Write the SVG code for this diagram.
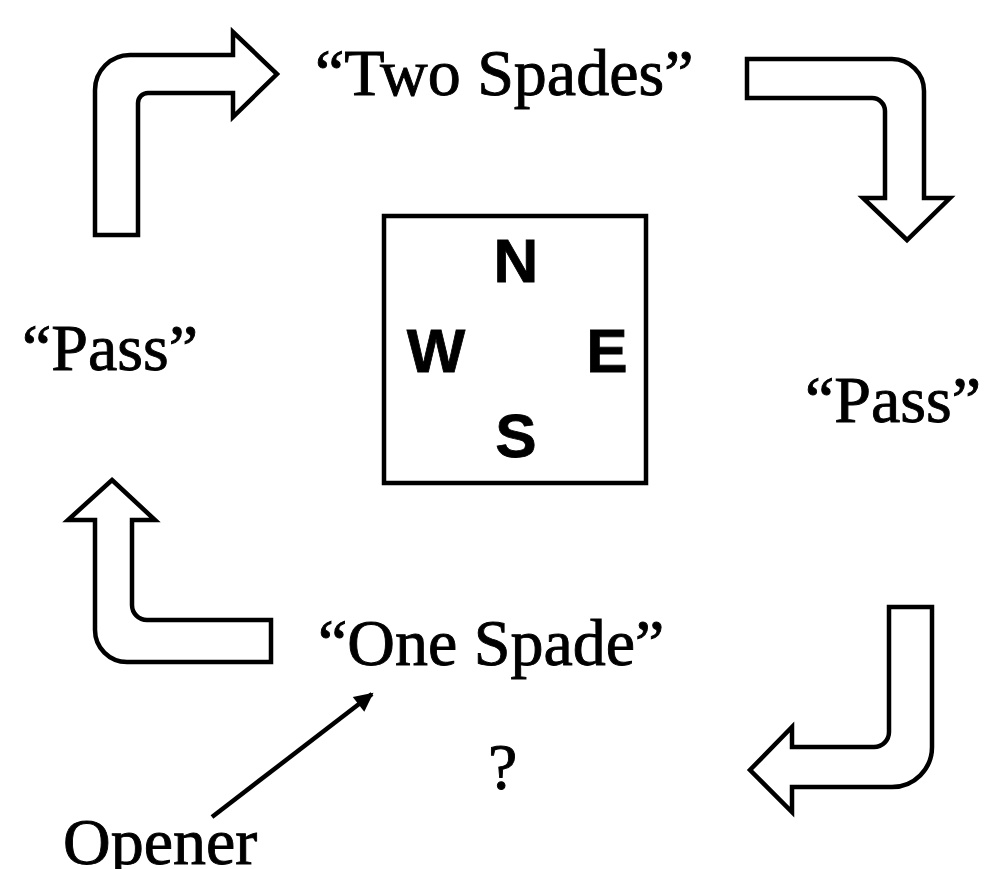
<svg xmlns="http://www.w3.org/2000/svg" width="988" height="869" viewBox="0 0 988 869">
<style>
.bg{fill:#fff}
.blk{fill:#fff;stroke:#000;stroke-width:4.5;stroke-linejoin:miter}
.lbl{font-family:"Liberation Serif","Times New Roman",serif;font-size:66px;fill:#000;stroke:#000;stroke-width:0.9}
.dir{font-family:"Liberation Sans",Arial,sans-serif;font-weight:bold;font-size:62px;fill:#000;stroke:#000;stroke-width:0.8;text-anchor:middle}
.box{fill:none;stroke:#000;stroke-width:4.5}
</style>
<defs>
<marker id="ah" viewBox="0 0 10 10" refX="9" refY="5" markerWidth="6" markerHeight="4.2" orient="auto" markerUnits="strokeWidth">
<path d="M0,0 L10,5 L0,10 Z" fill="#000"/>
</marker>
</defs>
<rect class="bg" x="0" y="0" width="988" height="869"/>
<g id="connectors">
<path id="arrow-west-north" class="blk" d="M95,235 L95,90 A35,35 0 0 1 130,55 L233,55 L233,32 L277,74 L233,117 L233,93 L148,93 A10,10 0 0 0 138,103 L138,235 Z"/>
<path id="arrow-north-east" class="blk" d="M747,59 L892,59 A32,32 0 0 1 924,91 L924,198 L950,198 L907,240 L863,198 L885,198 L885,111 A13,13 0 0 0 872,98 L747,98 Z"/>
<path id="arrow-east-south" class="blk" d="M889,607 L932,607 L932,747 A40,40 0 0 1 892,787 L792,787 L792,812 L750,770 L792,727 L792,747 L874,747 A15,15 0 0 0 889,732 Z"/>
<path id="arrow-south-west" class="blk" d="M112,480 L155,520 L132,520 L132,605 A15,15 0 0 0 147,620 L271,620 L271,662 L127,662 A32,32 0 0 1 95,630 L95,520 L68,520 Z"/>
<line id="opener-pointer" x1="212" y1="817" x2="372" y2="694" stroke="#000" stroke-width="4.5" marker-end="url(#ah)"/>
</g>
<g id="table">
<rect class="box" x="384" y="216" width="262" height="267"/>
<text class="dir" x="516" y="282">N</text>
<text class="dir" x="436" y="372">W</text>
<text class="dir" x="607" y="372">E</text>
<text class="dir" x="516" y="457">S</text>
</g>
<g id="north"><text class="lbl" x="315" y="95">“Two Spades”</text></g>
<g id="west"><text class="lbl" x="22" y="370">“Pass”</text></g>
<g id="east"><text class="lbl" x="805" y="422">“Pass”</text></g>
<g id="south"><text class="lbl" x="318" y="665">“One Spade”</text></g>
<g id="question"><text class="lbl" x="488" y="789">?</text></g>
<g id="opener"><text class="lbl" x="63" y="864">Opener</text></g>
</svg>
